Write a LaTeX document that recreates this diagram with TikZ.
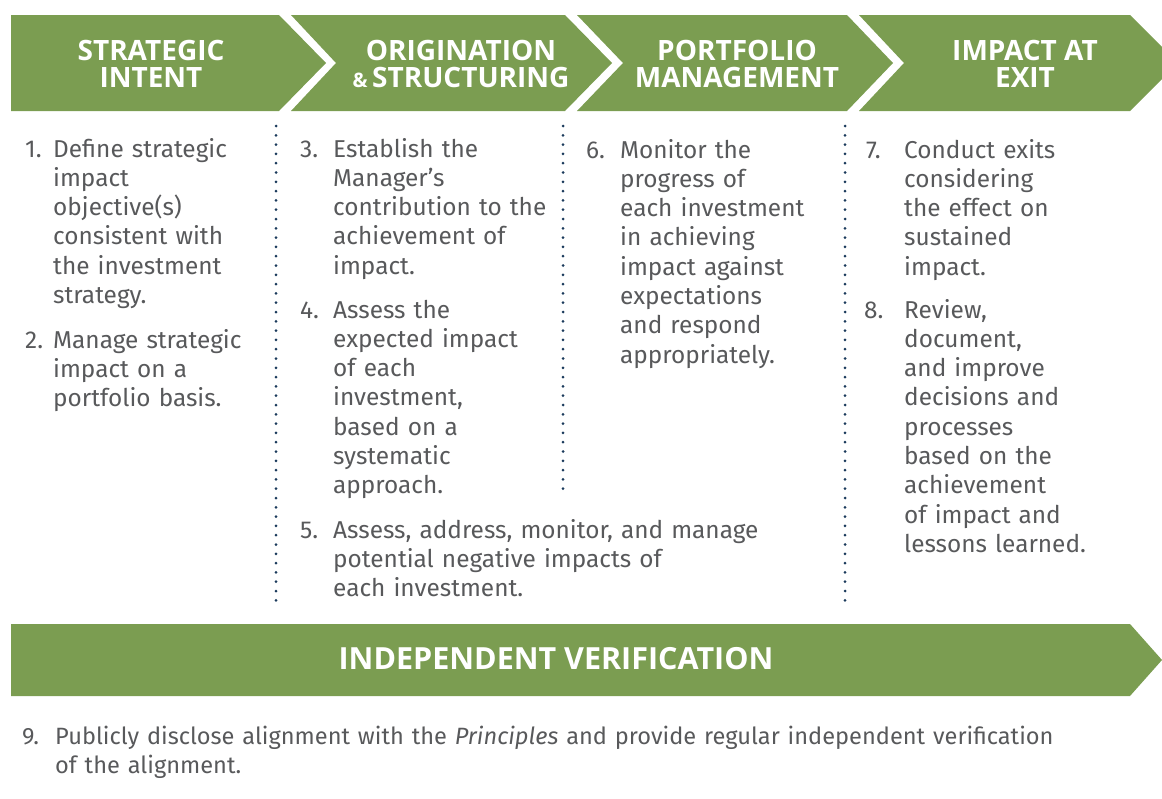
\documentclass[tikz,border=0pt]{standalone}
\usepackage{fontspec}
\setmainfont{Fira Sans}
\newfontfamily\headfont{Open Sans}
\definecolor{barc}{RGB}{123,157,81}
\definecolor{bodyc}{RGB}{88,89,91}
\definecolor{dotc}{RGB}{27,58,92}
\begin{document}
\begin{tikzpicture}[x=1pt,y=-1pt,
  barfill/.style={fill=barc},
  head/.style={text=white,font=\headfont\bfseries\fontsize{28}{27}\selectfont,align=center,inner sep=0},
  num/.style={text=bodyc,font=\fontsize{24.4}{29.3}\selectfont,anchor=base west,inner sep=0},
  itemtxt/.style={text=bodyc,font=\fontsize{24.4}{29.3}\selectfont,anchor=base west,inner sep=0,align=left,text width=440pt},
  sepline/.style={draw=dotc,line width=3pt,line cap=round,dash pattern=on 0pt off 9.3pt}]
\useasboundingbox (0,0) rectangle (1162,798);
% chevrons
\fill[barfill] (11,15) -- (279,15) -- (326,63) -- (279,111) -- (11,111) -- cycle;
\fill[barfill] (291,15) -- (565,15) -- (612,63) -- (565,111) -- (291,111) -- (336,63) -- cycle;
\fill[barfill] (577,15) -- (847,15) -- (893,63) -- (847,111) -- (577,111) -- (623,63) -- cycle;
\fill[barfill] (859,15) -- (1130,15) -- (1162,47) -- (1162,79) -- (1130,111) -- (859,111) -- (904,63) -- cycle;
% bottom bar
\fill[barfill] (11,624) -- (1130,624) -- (1162,660) -- (1130,696) -- (11,696) -- cycle;
% headings
\node[head] (h1) at (151,64) {STRATEGIC\\INTENT};
\node[head] (h2) at (461,64) {ORIGINATION\\{\fontsize{20}{20}\selectfont\&}\,STRUCTURING};
\node[head] (h3) at (737,64) {PORTFOLIO\\MANAGEMENT};
\node[head] (h4) at (1025,64) {IMPACT AT\\EXIT};
\node[head,font=\headfont\bfseries\fontsize{30.5}{30}\selectfont] (h5) at (556,659) {INDEPENDENT VERIFICATION};
% dotted separators
\coordinate (s1a) at (276,126); \coordinate (s1b) at (276,606);
\coordinate (s2a) at (563,126); \coordinate (s2b) at (563,489);
\coordinate (s3a) at (845,126); \coordinate (s3b) at (845,606);
\draw[sepline] (s1a) -- (s1b);
\draw[sepline] (s2a) -- (s2b);
\draw[sepline] (s3a) -- (s3b);
% items
\node[num] (n1) at (25,157) {1.};
\node[itemtxt] (t1) at (53,157) {Define strategic\\impact\\objective(s)\\consistent with\\the investment\\strategy.};
\node[num] (n2) at (25,348) {2.};
\node[itemtxt] (t2) at (53,348) {Manage strategic\\impact on a\\portfolio basis.};
\node[num] (n3) at (300,157) {3.};
\node[itemtxt] (t3) at (333,157) {Establish the\\Manager’s\\contribution to the\\achievement of\\impact.};
\node[num] (n4) at (300,318) {4.};
\node[itemtxt] (t4) at (333,318) {Assess the\\expected impact\\of each\\investment,\\based on a\\systematic\\approach.};
\node[num] (n5) at (300,538) {5.};
\node[itemtxt] (t5) at (333,538) {Assess, address, monitor, and manage\\potential negative impacts of\\each investment.};
\node[num] (n6) at (586,158) {6.};
\node[itemtxt] (t6) at (620,158) {Monitor the\\progress of\\each investment\\in achieving\\impact against\\expectations\\and respond\\appropriately.};
\node[num] (n7) at (866,158) {7.};
\node[itemtxt] (t7) at (904,158) {Conduct exits\\considering\\the effect on\\sustained\\impact.};
\node[num] (n8) at (864,318) {8.};
\node[itemtxt] (t8) at (904,318) {Review,\\document,\\and improve\\decisions and\\processes\\based on the\\achievement\\of impact and\\lessons learned.};
\node[num,font=\fontsize{23.6}{29.3}\selectfont] (n9) at (22,744) {9.};
\node[itemtxt,font=\fontsize{23.6}{29.3}\selectfont,text width=1100pt] (t9) at (55,744) {Publicly disclose alignment with the \textit{Principles} and provide regular independent verification\\of the alignment.};
\end{tikzpicture}
\end{document}
